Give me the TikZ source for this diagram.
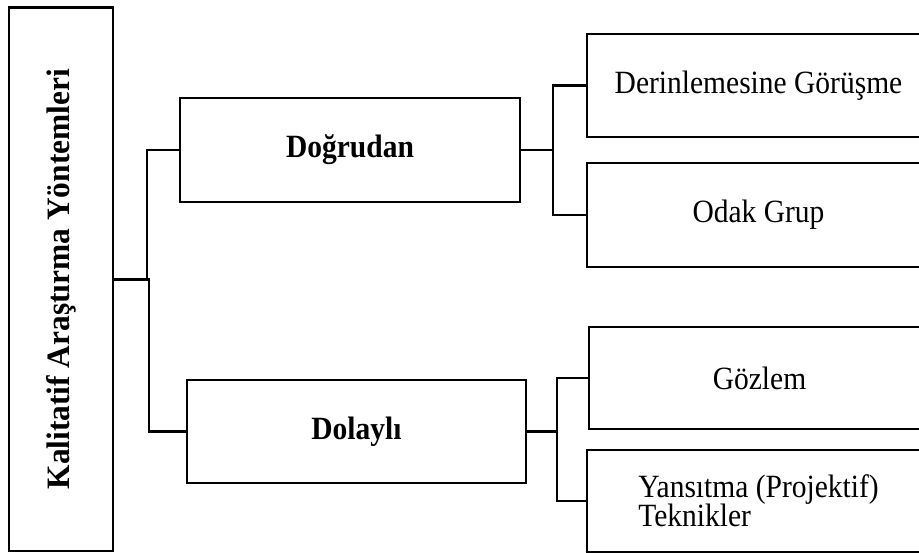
\documentclass[tikz,border=0pt]{standalone}
\usepackage{fontspec}
\setmainfont{Liberation Serif}
% labels are set slightly taller than wide
\newcommand{\tall}[1]{\scalebox{1}[1.1]{#1}}
\begin{document}
\begin{tikzpicture}[x=1pt,y=-1pt,
  box/.style={draw=black,line width=2.5pt,rectangle,inner sep=0pt,outer sep=0pt,
    font=\fontsize{29.5}{33}\selectfont,align=center},
  link/.style={draw=black,line width=2.5pt}]
  \useasboundingbox (0,0) rectangle (919,552);
  \clip (0,0) rectangle (919,552);

  % root
  \node[box,minimum width=104pt,minimum height=543.5pt] (main) at (61,279.25)
    {\rotatebox{90}{\scalebox{1}[1.04]{\fontsize{31.4}{34}\selectfont\bfseries Kalitatif Araştırma Yöntemleri}}};

  % second level
  \node[box,minimum width=340pt,minimum height=104pt] (dog) at (350,150) {\tall{\bfseries Doğrudan}};
  \node[box,minimum width=339pt,minimum height=103pt] (dol) at (356.5,431.5) {\tall{\bfseries Dolaylı}};

  % leaves (right side runs off the page)
  \node[box,minimum width=343pt,minimum height=103pt] (der) at (758.5,85.5) {\tall{Derinlemesine Görüşme}};
  \node[box,minimum width=343pt,minimum height=104pt] (odak) at (758.5,215) {\tall{Odak Grup}};
  \node[box,minimum width=341pt,minimum height=102pt] (goz) at (759.5,378) {\tall{Gözlem}};
  \node[box,minimum width=343pt,minimum height=102pt] (yans) at (758.5,501)
    {\raisebox{-5pt}{\tall{\vbox{\baselineskip=26.5pt\lineskiplimit=-100pt
      \hbox{Yansıtma (Projektif)}\hbox{Teknikler}}}}};

  % bracket corners
  \coordinate (b1) at (553,150);
  \coordinate (b2) at (557,431.5);

  % connectors
  \draw[link] (main.east) -| ([xshift=-33pt]dog.west) -- (dog.west);
  \draw[link] (main.east) -| ([xshift=-38pt]dol.west) -- (dol.west);
  \draw[link] (dog.east) -- (b1) |- (der.west);
  \draw[link] (b1) |- (odak.west);
  \draw[link] (dol.east) -- (b2) |- (goz.west);
  \draw[link] (b2) |- (yans.west);
\end{tikzpicture}
\end{document}
